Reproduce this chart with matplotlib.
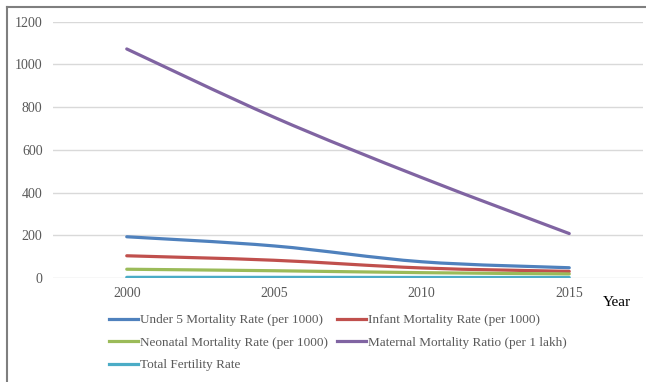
import matplotlib
matplotlib.use("Agg")
import matplotlib.pyplot as plt
from matplotlib.path import Path
from matplotlib.patches import PathPatch
from matplotlib.lines import Line2D
import numpy as np

years = ["2000", "2005", "2010", "2015"]
under5 = [193, 150, 76, 48]
infant = [104, 83, 47, 31]
neonatal = [41, 34, 25, 19]
maternal = [1072, 752, 470, 208]
fertility = [3.0, 2.9, 2.5, 2.2]

series_names = [
    "Under 5 Mortality Rate (per 1000)",
    "Infant Mortality Rate (per 1000)",
    "Neonatal Mortality Rate (per 1000)",
    "Maternal Mortality Ratio (per 1 lakh)",
    "Total Fertility Rate",
]
series_values = [under5, infant, neonatal, maternal, fertility]
series_colors = ["#4F81BD", "#C0504D", "#9BBB59", "#8064A2", "#4BACC6"]

y_ticks = [0, 200, 400, 600, 800, 1000, 1200]

W, H = 646, 382
fig = plt.figure(figsize=(W / 100, H / 100), dpi=100)
serif = ["Liberation Serif", "DejaVu Serif"]
tick_color = "#595959"

ax = fig.add_axes([53 / W, 1 - 278 / H, 590 / W, (278 - 21.6) / H])
ax.set_xlim(-0.5, len(years) - 0.5)
ax.set_ylim(0, 1200)
ax.set_yticks(y_ticks)
ax.set_xticks(range(len(years)))
ax.set_xticklabels(years)
for s in ax.spines.values():
    s.set_visible(False)
ax.tick_params(length=0, labelsize=10, colors=tick_color)
ax.tick_params(axis="x", pad=6.5)
ax.tick_params(axis="y", pad=7.5)
for lab in ax.get_xticklabels() + ax.get_yticklabels():
    lab.set_fontfamily(serif)
ax.grid(axis="y", color="#D9D9D9", linewidth=1.0)
ax.set_axisbelow(True)


def smooth_path(xs, ys):
    """Cubic Bezier path through the points (Excel-style smoothed line)."""
    pts = np.column_stack([xs, ys]).astype(float)
    n = len(pts)
    verts = [pts[0]]
    codes = [Path.MOVETO]
    for i in range(n - 1):
        p_prev = pts[i - 1] if i > 0 else pts[i]
        p_next2 = pts[i + 2] if i + 2 < n else pts[i + 1]
        c1 = pts[i] + (pts[i + 1] - p_prev) / 6.0
        c2 = pts[i + 1] - (p_next2 - pts[i]) / 6.0
        verts += [c1, c2, pts[i + 1]]
        codes += [Path.CURVE4] * 3
    return Path(verts, codes)


xs = np.arange(len(years))
handles = []
for name, vals, col in zip(series_names, series_values, series_colors):
    patch = PathPatch(smooth_path(xs, vals), fill=False, edgecolor=col,
                      linewidth=2.3, capstyle="round", joinstyle="round",
                      transform=ax.transData)
    ax.add_patch(patch)
    handles.append(Line2D([], [], color=col, linewidth=2.3, label=name))

# Legend laid out row by row: two entries per row
order = [0, 2, 4, 1, 3]
fig.legend([handles[i] for i in order], [series_names[i] for i in order],
           ncol=2, loc="upper left", bbox_to_anchor=(109 / W, 1 - 314 / H),
           frameon=False, prop={"family": serif, "size": 9.5},
           labelcolor=tick_color, handlelength=2.2, handletextpad=0.15,
           columnspacing=0.7, labelspacing=0.78, borderpad=0, borderaxespad=0)

fig.text(617 / W, 1 - 303 / H, "Year", ha="center", va="center",
         fontsize=11, family=serif, color="black")

# Outer frame (top and left edges)
fig.add_artist(Line2D([7 / W, 1], [1 - 7 / H, 1 - 7 / H], color="#7F7F7F",
                      linewidth=1.5, transform=fig.transFigure))
fig.add_artist(Line2D([7 / W, 7 / W], [0, 1 - 7 / H], color="#7F7F7F",
                      linewidth=1.5, transform=fig.transFigure))

fig.savefig("out.png", dpi=100)
